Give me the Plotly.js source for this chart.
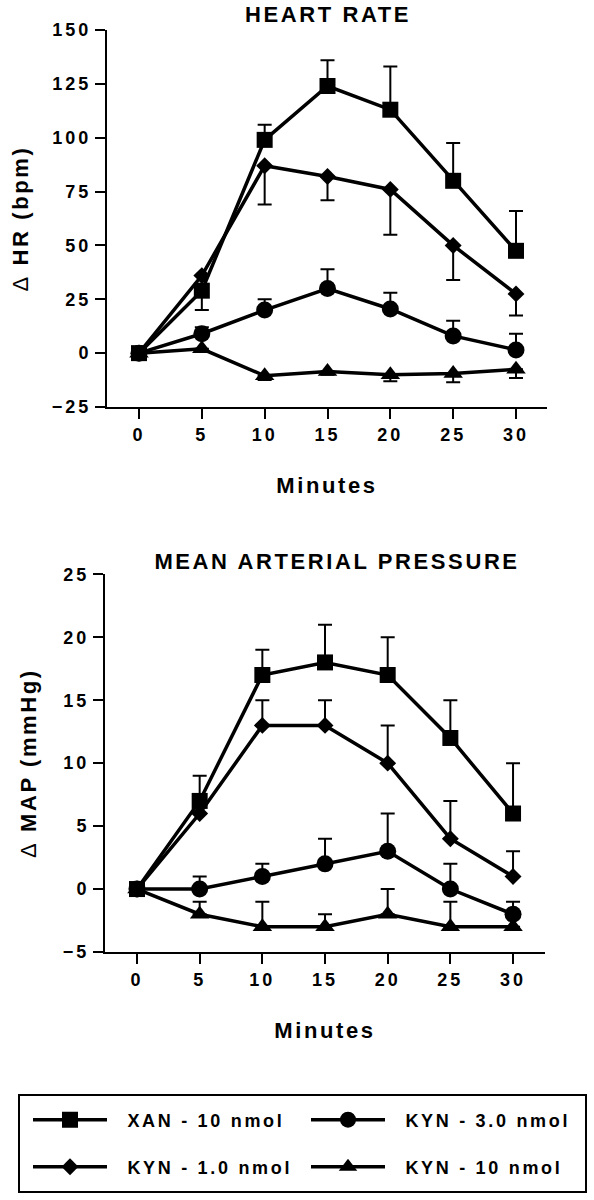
<!DOCTYPE html>
<html><head><meta charset="utf-8">
<script src="https://cdn.plot.ly/plotly-3.0.1.min.js"></script>
<style>
html,body{margin:0;padding:0;background:#fff;}
#chart{width:594px;height:1200px;}
#chart text{letter-spacing:3px;}
#chart .annotation-text{letter-spacing:2.6px;}
#chart .xtitle, #chart .ytitle, #chart .x2title, #chart .y2title{letter-spacing:2.6px;}
#chart .legendtext{letter-spacing:0px;}
</style></head><body><div id="chart"></div>
<script>
// ---- data ----
const minutes = [0, 5, 10, 15, 20, 25, 30];
const names = ['XAN - 10 nmol', 'KYN - 3.0 nmol', 'KYN - 1.0 nmol', 'KYN - 10 nmol'];

// Heart rate (Δ bpm)
const hrXAN      = [0, 29, 99, 124, 113, 80, 47.5];
const hrXANup    = [0, 0, 7, 12, 20, 17.5, 18.5];
const hrXANdown  = [0, 9, 0, 0, 0, 0, 0];
const hrKYN3     = [0, 9, 20, 30, 20.5, 8, 1.5];
const hrKYN3up   = [0, 3, 5, 9, 7.5, 7, 7.5];
const hrKYN1     = [0, 36, 87, 82, 76, 50, 27.5];
const hrKYN1down = [0, 0, 18, 11, 21, 16, 10];
const hrKYN10    = [0, 2, -10.5, -8.5, -10, -9.5, -7.5];
const hrKYN10down= [0, 0, 2, 1.5, 3, 4, 4];

// Mean arterial pressure (Δ mmHg)
const mapXAN     = [0, 7, 17, 18, 17, 12, 6];
const mapXANup   = [0, 2, 2, 3, 3, 3, 4];
const mapKYN3    = [0, 0, 1, 2, 3, 0, -2];
const mapKYN3up  = [0, 1, 1, 2, 3, 2, 1];
const mapKYN1    = [0, 6, 13, 13, 10, 4, 1];
const mapKYN1up  = [0, 0, 2, 2, 3, 3, 2];
const mapKYN10   = [0, -2, -3, -3, -2, -3, -3];
const mapKYN10up = [0, 1, 2, 1, 2, 2, 0];

const hrTicks  = [-25, 0, 25, 50, 75, 100, 125, 150];
const mapTicks = [-5, 0, 5, 10, 15, 20, 25];
const zeros = minutes.map(() => 0);

const FONT = 'Liberation Sans, Arial, Helvetica, sans-serif';

function legName(n) {
  return '<span style="letter-spacing:2.7px">\u00a0\u00a0' + n + '</span>';
}

function tr(y, up, down, name, sym, size, xa, ya, leg, show) {
  return {
    type: 'scatter', mode: 'lines+markers', x: minutes, y: y, name: legName(name),
    xaxis: xa, yaxis: ya, legend: leg, showlegend: show,
    line: {color: 'black', width: 3.5},
    marker: {symbol: sym, size: size, color: 'black', line: {width: 0}},
    error_y: {type: 'data', symmetric: false, array: up, arrayminus: down,
              color: 'black', thickness: 2, width: 7},
    cliponaxis: false
  };
}

const data = [
  tr(hrKYN10, zeros, hrKYN10down, names[3], 'triangle-up', 17, 'x', 'y', 'legend4', true),
  tr(hrKYN3, hrKYN3up, zeros, names[1], 'circle', 17, 'x', 'y', 'legend2', true),
  tr(hrKYN1, zeros, hrKYN1down, names[2], 'diamond', 13, 'x', 'y', 'legend3', true),
  tr(hrXAN, hrXANup, hrXANdown, names[0], 'square', 16, 'x', 'y', 'legend', true),
  tr(mapKYN10, mapKYN10up, zeros, names[3], 'triangle-up', 17, 'x2', 'y2', 'legend4', false),
  tr(mapKYN3, mapKYN3up, zeros, names[1], 'circle', 17, 'x2', 'y2', 'legend2', false),
  tr(mapKYN1, mapKYN1up, zeros, names[2], 'diamond', 13, 'x2', 'y2', 'legend3', false),
  tr(mapXAN, mapXANup, zeros, names[0], 'square', 16, 'x2', 'y2', 'legend', false)
];

function xax(domain, range, anchor) {
  return {
    domain: domain, range: range, anchor: anchor,
    tickmode: 'array', tickvals: minutes,
    ticks: 'outside', ticklen: 10, tickwidth: 2, tickcolor: 'black',
    showline: true, linewidth: 2, linecolor: 'black',
    showgrid: false, zeroline: false, fixedrange: true,
    tickfont: {family: FONT, size: 18, weight: 'bold', color: 'black'},
    title: {text: 'Minutes', standoff: 34, font: {family: FONT, size: 22, weight: 'bold', color: 'black'}}
  };
}
function yax(domain, range, ticks, title, anchor) {
  return {
    domain: domain, range: range, anchor: anchor,
    tickmode: 'array', tickvals: ticks,
    ticks: 'outside', ticklen: 10, tickwidth: 2, tickcolor: 'black',
    showline: true, linewidth: 2, linecolor: 'black',
    showgrid: false, zeroline: false, fixedrange: true,
    tickfont: {family: FONT, size: 18, weight: 'bold', color: 'black'},
    title: {text: title, standoff: 26, font: {family: FONT, size: 22, weight: 'bold', color: 'black'}}
  };
}
function leg(x, y) {
  return {x: x, y: y, xanchor: 'left', yanchor: 'middle', orientation: 'h',
          bgcolor: 'rgba(0,0,0,0)', borderwidth: 0, itemwidth: 74,
          font: {family: FONT, size: 18, weight: 'bold', color: 'black'}};
}

const layout = {
  width: 594, height: 1200,
  margin: {l: 0, r: 0, t: 0, b: 0},
  paper_bgcolor: 'white', plot_bgcolor: 'white',
  font: {family: FONT, color: 'black', weight: 'bold', size: 18},
  xaxis: xax([107/594, 547/594], [-2.546, 32.467], 'y'),
  yaxis: yax([1 - 407/1200, 1 - 30/1200], [-25, 150], hrTicks,
             '<span style="font-weight:normal">Δ</span> HR (bpm)', 'x'),
  xaxis2: xax([105/594, 545/594], [-2.553, 32.55], 'y2'),
  yaxis2: yax([1 - 952/1200, 1 - 574.3/1200], [-5, 25], mapTicks,
              '<span style="font-weight:normal">Δ</span> MAP (mmHg)', 'x2'),
  legend:  leg(28/594, 1 - 1120/1200),
  legend2: leg(306/594, 1 - 1120/1200),
  legend3: leg(28/594, 1 - 1167/1200),
  legend4: leg(306/594, 1 - 1167/1200),
  annotations: [
    {text: 'HEART RATE', xref: 'paper', yref: 'paper', x: 328/594, y: 1 - 14/1200,
     xanchor: 'center', yanchor: 'middle', showarrow: false,
     font: {family: FONT, size: 22, weight: 'bold', color: 'black'}},
    {text: 'MEAN ARTERIAL PRESSURE', xref: 'paper', yref: 'paper', x: 337/594, y: 1 - 562/1200,
     xanchor: 'center', yanchor: 'middle', showarrow: false,
     font: {family: FONT, size: 22, weight: 'bold', color: 'black'}}
  ],
  shapes: [
    {type: 'rect', xref: 'paper', yref: 'paper', x0: 19/594, x1: 586/594,
     y0: 1 - 1192/1200, y1: 1 - 1095/1200, line: {color: 'black', width: 2}}
  ]
};

Plotly.newPlot('chart', data, layout, {staticPlot: true, displayModeBar: false});
</script></body></html>
